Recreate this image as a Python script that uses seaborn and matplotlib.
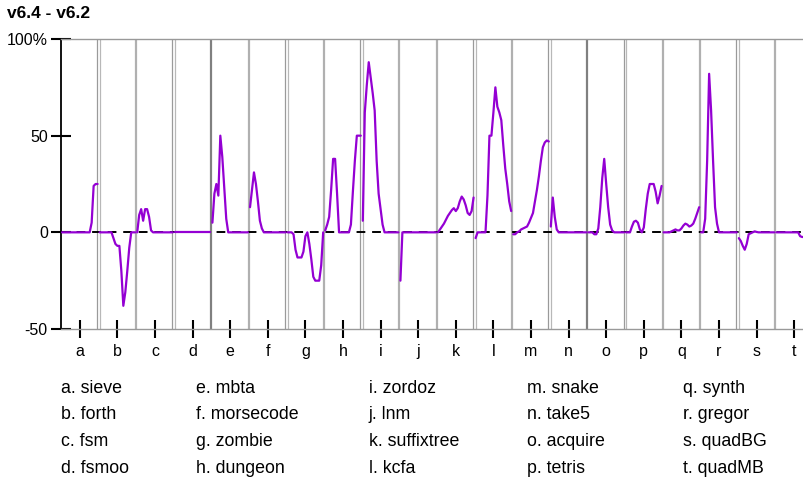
import pandas as pd
import numpy as np
import matplotlib.pyplot as plt
import seaborn as sns

sns.set_style("white")
plt.rcParams["font.family"] = ["Liberation Sans", "DejaVu Sans"]
plt.rcParams["text.color"] = "black"
plt.rcParams["xtick.color"] = "black"
plt.rcParams["ytick.color"] = "black"

letters = list("abcdefghijklmnopqrst")
names = ["sieve", "forth", "fsm", "fsmoo", "mbta", "morsecode", "zombie", "dungeon",
         "zordoz", "lnm", "suffixtree", "kcfa", "snake", "take5", "acquire", "tetris",
         "synth", "gregor", "quadBG", "quadMB"]

# % difference v6.4 vs v6.2 (19 samples per benchmark)
sieve = [0, 0, 0, 0, 0, 0, 0, 0, 0, 0, 0, 0, 0, 0, 0, 5, 24, 25, 25]
forth = [0, 0, 0, 0, 0, 0, 0, -3, -6, -7, -7, -20, -38, -31, -20, -8, 0, 0, 0]
fsm = [0, 9, 12, 6, 12, 12, 8, 1, 0, 0, 0, 0, 0, 0, 0, 0, 0, 0, 0]
fsmoo = [0] * 19
mbta = [5, 20, 25, 19, 50, 39, 23, 7, 0, 0, 0, 0, 0, 0, 0, 0, 0, 0, 0]
morsecode = [13, 22, 31, 25, 16, 6, 2, 0, 0, 0, 0, 0, 0, 0, 0, 0, 0, 0, 0]
zombie = [0, 0, 0, -1, -9, -13, -13, -13, -10, -2, 0, -6, -14, -23, -25, -25, -25, -17, 0]
dungeon = [1, 4, 8, 22, 38, 38, 20, 0, 0, 0, 0, 0, 0, 4, 21, 37, 50, 50, 50]
zordoz = [6, 62, 76, 88, 80, 72, 63, 37, 20, 12, 4, 0, 0, 0, 0, 0, 0, 0, 0]
lnm = [-25, 0, 0, 0, 0, 0, 0, 0, 0, 0, 0, 0, 0, 0, 0, 0, 0, 0, 0]
suffixtree = [0, 1.5, 3, 4.5, 6.5, 8.5, 10, 11.5, 12.5, 11, 12.5, 16, 18.5, 17, 14, 10, 9, 11, 18]
kcfa = [-3, 0, 0, 0, 0, 0, 19, 50, 50, 62, 75, 65, 62, 58, 45, 33, 25, 16, 11]
snake = [-1, -1, 0, 0.5, 1.5, 2, 2.5, 3, 5, 7.5, 10, 16, 22, 29, 37, 44, 46.5, 47.5, 47]
take5 = [3, 18, 8, 1.5, 0, 0, 0, 0, 0, 0, 0, 0, 0, 0, 0, 0, 0, 0, 0]
acquire = [0, 0, 0, -1, -1, 2, 13, 28, 38, 25, 13, 4, 1, 0, 0, 0, 0, 0, 0]
tetris = [0, 0, 0, 3, 5.5, 6, 5, 1.5, 0, 2.5, 12, 20, 25, 25, 25, 21, 15, 19, 24]
synth = [0, 0, 0, 0, 0.5, 1, 1.5, 1, 1, 2, 3.5, 4.5, 4, 3, 3.5, 4.5, 7, 10, 13]
gregor = [0, 0, 7, 37, 82, 63, 37, 13, 4.5, 0, 0, 0, 0, 0, 0, 0, 0, 0, 0]
quadBG = [-3, -4.5, -7, -9, -6, -1, -0.5, 0, 0.5, 0.2, 0, 0, 0, 0, 0, 0, 0, 0, 0]
quadMB = [0, 0, 0, 0, 0, 0, 0, 0, 0, 0, 0, 0, -2, -2.4, -2.4, -2.4, -2.4, -2.4, -2.4]

series = [sieve, forth, fsm, fsmoo, mbta, morsecode, zombie, dungeon, zordoz, lnm,
          suffixtree, kcfa, snake, take5, acquire, tetris, synth, gregor, quadBG, quadMB]

rows = []
for i, vals in enumerate(series):
    xs = i - 0.5 + np.linspace(0.027, 0.973, len(vals))
    for x, v in zip(xs, vals):
        rows.append({"bench": names[i], "x": x, "y": v})
df = pd.DataFrame(rows)

fig = plt.figure(figsize=(8.04, 4.8), dpi=100)
ax = fig.add_axes([61 / 804, 151 / 480, 743 / 804, 290 / 480])

# separators between benchmarks
double = {0, 2, 5, 7, 10, 12, 14, 17}
dark = {3, 13}
dx = 1.3 / 37.6
for i in range(19):
    b = i + 0.5
    if i in double:
        ax.axvline(b - dx, color="#9a9a9a", lw=0.9, zorder=1)
        ax.axvline(b + dx, color="#b8b8b8", lw=0.9, zorder=1)
    elif i in dark:
        ax.axvline(b, color="#808080", lw=1.6, zorder=1)
    else:
        ax.axvline(b, color="#b0b0b0", lw=1.6, zorder=1)

ax.axhline(0, color="black", ls=(0, (4.5, 3.5)), lw=1.4, zorder=2)

sns.lineplot(data=df, x="x", y="y", units="bench", estimator=None, sort=False,
             color="#9400d3", lw=1.6, ax=ax, zorder=3)

ax.set_xlim(-0.5, -0.5 + 743 / 37.6)
ax.set_ylim(-50, 100)
ax.set_yticks([-50, 0, 50, 100])
ax.set_yticklabels(["-50", "0", "50", "100%"])
ax.set_xticks(range(20))
ax.set_xticklabels(letters)
ax.tick_params(axis="y", left=True, direction="inout", length=14, width=1.5,
               color="black", labelsize=11.5, pad=2.5)
ax.tick_params(axis="x", bottom=True, direction="inout", length=13, width=1.5,
               color="black", labelsize=11.5, pad=4)
ax.set_xlabel("")
ax.set_ylabel("")

ax.spines["right"].set_visible(False)
ax.spines["left"].set_color("black")
ax.spines["left"].set_linewidth(1.3)
for s in ["top", "bottom"]:
    ax.spines[s].set_color("#999999")
    ax.spines[s].set_linewidth(1.0)

fig.text(7 / 804, 1 - 14 / 480, "v6.4 - v6.2", fontsize=12.5, fontweight="bold",
         va="center", ha="left")

col_x = [61, 196, 369, 527, 683]
row_y = [393, 419, 446, 473]
for i, (l, n) in enumerate(zip(letters, names)):
    c, r = divmod(i, 4)
    fig.text(col_x[c] / 804, 1 - row_y[r] / 480, f"{l}. {n}", fontsize=12.8,
             va="baseline", ha="left")

fig.savefig("out.png", dpi=100)
